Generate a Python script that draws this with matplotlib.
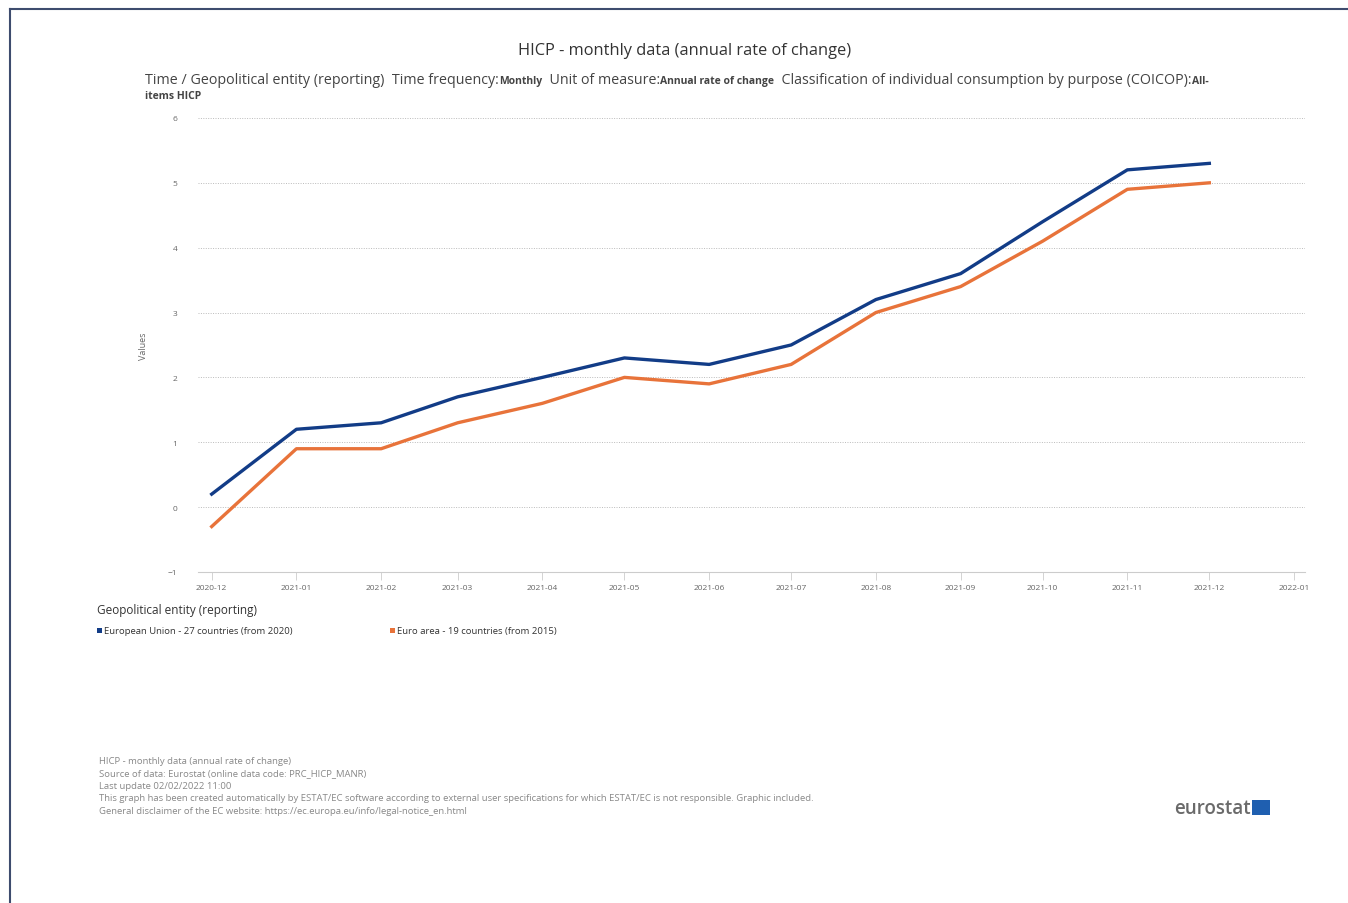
import matplotlib
matplotlib.use("Agg")
import matplotlib.pyplot as plt
from matplotlib.lines import Line2D
from matplotlib.patches import Rectangle
import numpy as np

# data
months = ["2020-12", "2021-01", "2021-02", "2021-03", "2021-04", "2021-05", "2021-06",
          "2021-07", "2021-08", "2021-09", "2021-10", "2021-11", "2021-12"]
eu27 = [0.2, 1.2, 1.3, 1.7, 2.0, 2.3, 2.2, 2.5, 3.2, 3.6, 4.4, 5.2, 5.3]
ea19 = [-0.3, 0.9, 0.9, 1.3, 1.6, 2.0, 1.9, 2.2, 3.0, 3.4, 4.1, 4.9, 5.0]
series_names = ["European Union - 27 countries (from 2020)", "Euro area - 19 countries (from 2015)"]
tick_months = months + ["2022-01"]

blue = "#123c87"
orange = "#e8733a"

plt.rcParams['font.family'] = ['Open Sans', 'DejaVu Sans']

fig = plt.figure(figsize=(13.48, 9.04), dpi=100)
fig.patch.set_facecolor("white")

ax = fig.add_axes([0.1469, 0.3662, 0.8212, 0.5022])

dates = np.array(months, dtype="datetime64[M]").astype("datetime64[D]")
tdates = np.array(tick_months, dtype="datetime64[M]").astype("datetime64[D]")

ax.plot(dates, eu27, color=blue, linewidth=2.4)
ax.plot(dates, ea19, color=orange, linewidth=2.4)

ax.set_ylim(-1, 6)
ax.set_yticks(range(-1, 7))
ax.set_xlim(np.datetime64("2020-11-26"), np.datetime64("2022-01-05"))
ax.set_xticks(tdates)
ax.set_xticklabels(tick_months)
ax.tick_params(axis="x", labelsize=6, colors="#cccccc", labelcolor="#666666",
               length=6, width=0.6, direction="out", pad=3)
ax.tick_params(axis="y", labelsize=6, labelcolor="#666666", length=0, pad=15)

for s in ["top", "right", "left"]:
    ax.spines[s].set_visible(False)
ax.spines["bottom"].set_color("#cccccc")
ax.spines["bottom"].set_linewidth(0.8)

for yv in range(0, 7):
    ax.axhline(yv, color="#bbbbbb", linewidth=0.7, linestyle=(0, (1, 1.5)), zorder=0)

ax.set_ylabel("Values", fontsize=6.5, color="#666666", labelpad=14)

# titles
fig.text(0.508, 0.944, "HICP - monthly data (annual rate of change)", ha="center",
         va="center", fontsize=11.8, color="#333333")

y_sub = 0.9075
parts = [("Time / Geopolitical entity (reporting)  Time frequency:", 10.3, "normal"),
         ("Monthly", 7.5, "bold"),
         ("  Unit of measure:", 10.3, "normal"),
         ("Annual rate of change", 7.5, "bold"),
         ("  Classification of individual consumption by purpose (COICOP):", 10.3, "normal"),
         ("All-", 7.5, "bold")]
x = 0.1076
renderer = fig.canvas.get_renderer()
for txt, fs, fw in parts:
    t = fig.text(x, y_sub, txt, fontsize=fs, fontweight=fw, color="#444444",
                 ha="left", va="baseline")
    bb = t.get_window_extent(renderer=renderer)
    x += bb.width / fig.bbox.width
fig.text(0.1076, 0.8905, "items HICP", fontsize=7.5, fontweight="bold", color="#444444",
         ha="left", va="baseline")

# legend
fig.text(0.072, 0.3245, "Geopolitical entity (reporting)", fontsize=8.5, color="#333333",
         ha="left", va="center")
leg_x = [0.072, 0.289]
for lx, name, c in zip(leg_x, series_names, [blue, orange]):
    fig.patches.append(Rectangle((lx, 0.2988), 0.0037, 0.0055, transform=fig.transFigure,
                                 facecolor=c, edgecolor="none"))
    fig.text(lx + 0.0055, 0.3013, name, fontsize=6.8, color="#333333", ha="left", va="center")

# footer
footer = ["HICP - monthly data (annual rate of change)",
          "Source of data: Eurostat (online data code: PRC_HICP_MANR)",
          "Last update 02/02/2022 11:00",
          "This graph has been created automatically by ESTAT/EC software according to external user specifications for which ESTAT/EC is not responsible. Graphic included.",
          "General disclaimer of the EC website: https://ec.europa.eu/info/legal-notice_en.html"]
for i, line in enumerate(footer):
    fig.text(0.0735, 0.1575 - i * 0.0137, line, fontsize=6.8, color="#888888",
             ha="left", va="center")

# eurostat logo
fig.text(0.928, 0.1055, "eurostat", fontsize=13.5, color="#6a6a6a", ha="right",
         va="center", fontweight="semibold")
fig.patches.append(Rectangle((0.929, 0.0973), 0.0134, 0.0166, transform=fig.transFigure,
                             facecolor="#1f5fb0", edgecolor="none"))

# page frame
fig.lines.append(Line2D([0.0075, 0.0075], [0.0, 0.989], transform=fig.transFigure,
                        color="#3e4c6e", linewidth=1.5))
fig.lines.append(Line2D([0.0075, 1.0], [0.989, 0.989], transform=fig.transFigure,
                        color="#3e4c6e", linewidth=1.5))

fig.savefig("out.png", dpi=100)
